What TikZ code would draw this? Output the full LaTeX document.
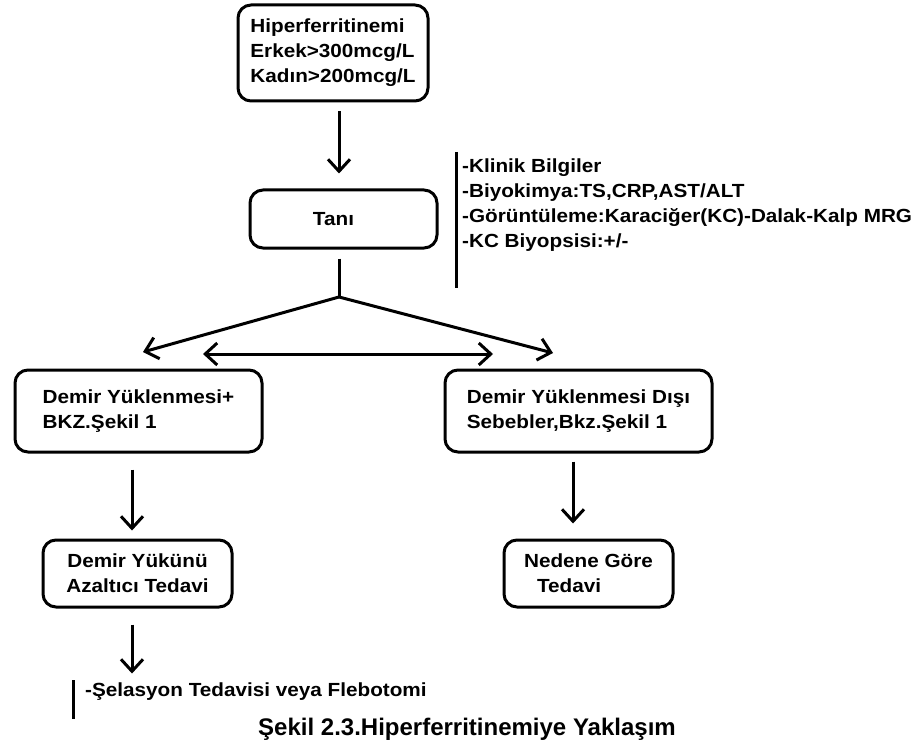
\documentclass[tikz,border=0pt]{standalone}
\usepackage{fontspec}
\setmainfont{Liberation Sans}[FakeStretch=1.09]
\newfontfamily\baslikfont{Liberation Sans}
\usetikzlibrary{arrows.meta}

\begin{document}
\begin{tikzpicture}[x=1pt,y=-1pt,
  every node/.style={font=\bfseries\fontsize{19}{25}\selectfont},
  kutu/.style n args={2}{draw,line width=3pt,rounded corners=13pt,minimum width=#1pt,minimum height=#2pt,align=left,inner sep=0pt},
  cizgi/.style={line width=3pt},
  >={Straight Barb[length=12pt,width=22pt]},
  ok/.style={cizgi,->},
  iki/.style={cizgi,<->}]
\useasboundingbox (0,0) rectangle (915,746);
% kutular
\node[kutu={190}{96}] (ust) at (333,53) {Hiperferritinemi\\Erkek>300mcg/L\\Kadın>200mcg/L};
\node[kutu={187}{58}] (tani) at (343.5,219) {\hspace*{-20pt}Tanı};
\node[anchor=west,align=left,inner sep=0pt] (bilgi) at (462,205)
   {-Klinik Bilgiler\\-Biyokimya:TS,CRP,AST/ALT\\-Görüntüleme:Karaciğer(KC)-Dalak-Kalp MRG\\-KC Biyopsisi:+/-};
\node[kutu={247}{82}] (sol) at (138.5,411) {Demir Yüklenmesi+\\BKZ.Şekil 1};
\node[kutu={267}{82}] (sag) at (578.5,411)
   {\raisebox{5pt}{\begin{tabular}{@{}l@{}}Demir Yüklenmesi Dışı\\Sebebler,Bkz.Şekil 1\end{tabular}}};
\node[kutu={189}{67},align=center] (azalt) at (137.5,573.5) {Demir Yükünü\\Azaltıcı Tedavi};
\node[kutu={169}{67}] (neden) at (588.5,573.5) {Nedene Göre\\\hspace{13pt}Tedavi};
\node[anchor=west,inner sep=0pt] (flebo) at (85,692) {-Şelasyon Tedavisi veya Flebotomi};
\node[anchor=base,inner sep=0pt,font=\baslikfont\bfseries\fontsize{24}{28}\selectfont] (baslik) at (467,735)
   {Şekil 2.3.Hiperferritinemiye Yaklaşım};
% yan cizgiler
\draw[cizgi] (456,152) -- (456,288);
\draw[cizgi] (73,680) -- (73,719);
% oklar
\coordinate (ayr) at (339,297);
\coordinate (solUc) at (143,352);
\coordinate (sagUc) at (553,353);
\coordinate (cift1) at (203,354);
\coordinate (cift2) at (493,354);
\draw[ok] ([xshift=6pt,yshift=-9pt]ust.south) -- ([xshift=-4.5pt,yshift=15pt]tani.north);
\draw[cizgi] ([xshift=-4.5pt,yshift=-9pt]tani.south) -- (ayr);
\draw[ok] (ayr) -- (solUc);
\draw[ok] (ayr) -- (sagUc);
\draw[iki] (cift1) -- (cift2);
\draw[ok] ([xshift=-6.5pt,yshift=-16pt]sol.south) -- ([xshift=-5.5pt,yshift=8pt]azalt.north);
\draw[ok] ([xshift=-5.5pt,yshift=-8pt]sag.south) -- ([xshift=-15.5pt,yshift=15pt]neden.north);
\draw[ok] ([xshift=-5.5pt,yshift=-16pt]azalt.south) -- ([xshift=-5.5pt,yshift=-65pt]azalt.south);
\end{tikzpicture}
\end{document}
